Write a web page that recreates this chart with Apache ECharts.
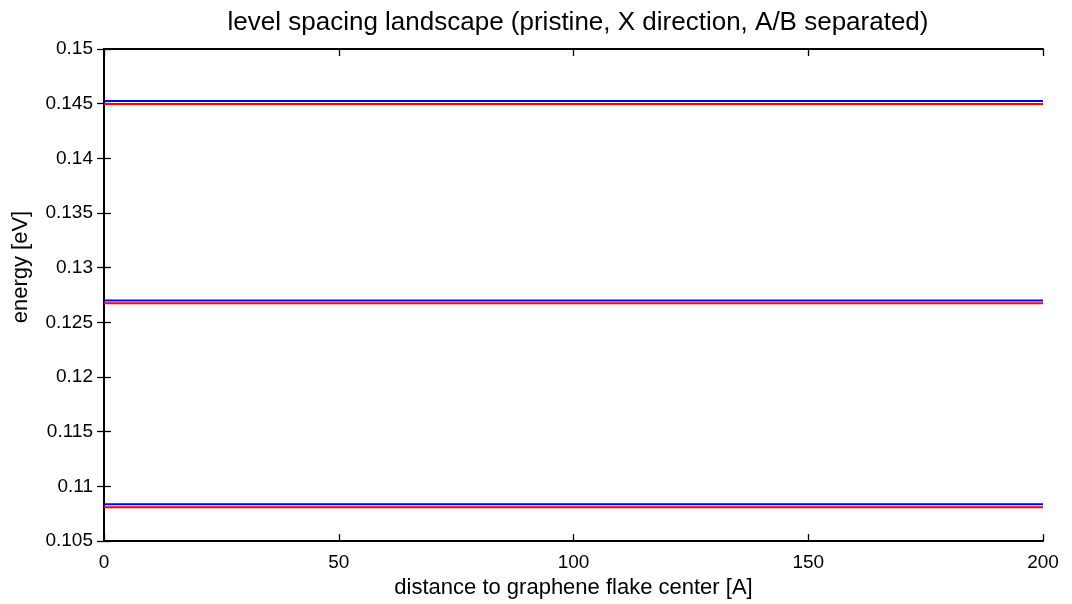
<!DOCTYPE html>
<html>
<head>
<meta charset="utf-8">
<script src="https://cdn.jsdelivr.net/npm/echarts@6/dist/echarts.min.js"></script>
<style>
  html, body { margin: 0; padding: 0; background: #fff; }
  #chart { width: 1072px; height: 604px; }
</style>
</head>
<body>
<div id="chart"></div>
<script>
// Distance samples along the X direction [A]
const distance = [0, 200];

// Level energies [eV] for sublattice A (blue) and B (red)
const levelA1 = [0.10838, 0.10838];
const levelB1 = [0.10810, 0.10810];
const levelA2 = [0.12700, 0.12700];
const levelB2 = [0.12675, 0.12675];
const levelA3 = [0.14525, 0.14525];
const levelB3 = [0.14498, 0.14498];

const xTicks = [0, 50, 100, 150, 200];
const yTicks = [0.105, 0.11, 0.115, 0.12, 0.125, 0.13, 0.135, 0.14, 0.145, 0.15];

const FONT = 'Liberation Sans, Arial, Helvetica, sans-serif';

function pairs(ys) { return distance.map((x, i) => [x, ys[i]]); }

const levels = [
  { data: levelA1, color: '#0000ff' },
  { data: levelB1, color: '#ff0000' },
  { data: levelA2, color: '#0000ff' },
  { data: levelB2, color: '#ff0000' },
  { data: levelA3, color: '#0000ff' },
  { data: levelB3, color: '#ff0000' }
];

const frameLine = { show: true, lineStyle: { color: '#000', width: 2 } };
const innerTick = { show: true, inside: true, length: 7, lineStyle: { color: '#000', width: 1.3 } };

const chart = echarts.init(document.getElementById('chart'), null, { renderer: 'canvas' });
chart.setOption({
  animation: false,
  backgroundColor: '#fff',
  title: {
    text: 'level spacing landscape (pristine, X direction, A/B separated)',
    left: 573, top: 5, textAlign: 'center',
    textStyle: { fontFamily: FONT, fontSize: 26, fontWeight: 'normal', color: '#000' }
  },
  grid: { left: 104, right: 29, top: 49, bottom: 62, containLabel: false },
  xAxis: [
    {
      type: 'value', min: xTicks[0], max: xTicks[xTicks.length - 1], interval: 50,
      name: 'distance to graphene flake center [A]', nameLocation: 'middle', nameGap: 29,
      nameTextStyle: { fontFamily: FONT, fontSize: 22, color: '#000' },
      axisLine: frameLine, axisTick: innerTick,
      axisLabel: { fontFamily: FONT, fontSize: 19, color: '#000', margin: 12 },
      splitLine: { show: false }
    },
    {
      type: 'value', position: 'top', min: xTicks[0], max: xTicks[xTicks.length - 1], interval: 50,
      axisLine: frameLine, axisTick: innerTick, axisLabel: { show: false }, splitLine: { show: false }
    }
  ],
  yAxis: [
    {
      type: 'value', min: yTicks[0], max: yTicks[yTicks.length - 1], interval: 0.005,
      name: 'energy [eV]', nameLocation: 'middle', nameGap: 72,
      nameTextStyle: { fontFamily: FONT, fontSize: 22, color: '#000', padding: [0, 0, 0, 56] },
      axisLine: frameLine, axisTick: innerTick,
      axisLabel: {
        fontFamily: FONT, fontSize: 19, color: '#000', margin: 11,
        formatter: v => String(parseFloat(v.toFixed(3)))
      },
      splitLine: { show: false }
    },
    {
      type: 'value', position: 'right', min: yTicks[0], max: yTicks[yTicks.length - 1], interval: 0.005,
      axisLine: frameLine, axisTick: innerTick, axisLabel: { show: false }, splitLine: { show: false }
    }
  ],
  series: levels.map(l => ({
    type: 'line', data: pairs(l.data), symbol: 'none',
    lineStyle: { color: l.color, width: 2 }, silent: true
  }))
});
</script>
</body>
</html>
